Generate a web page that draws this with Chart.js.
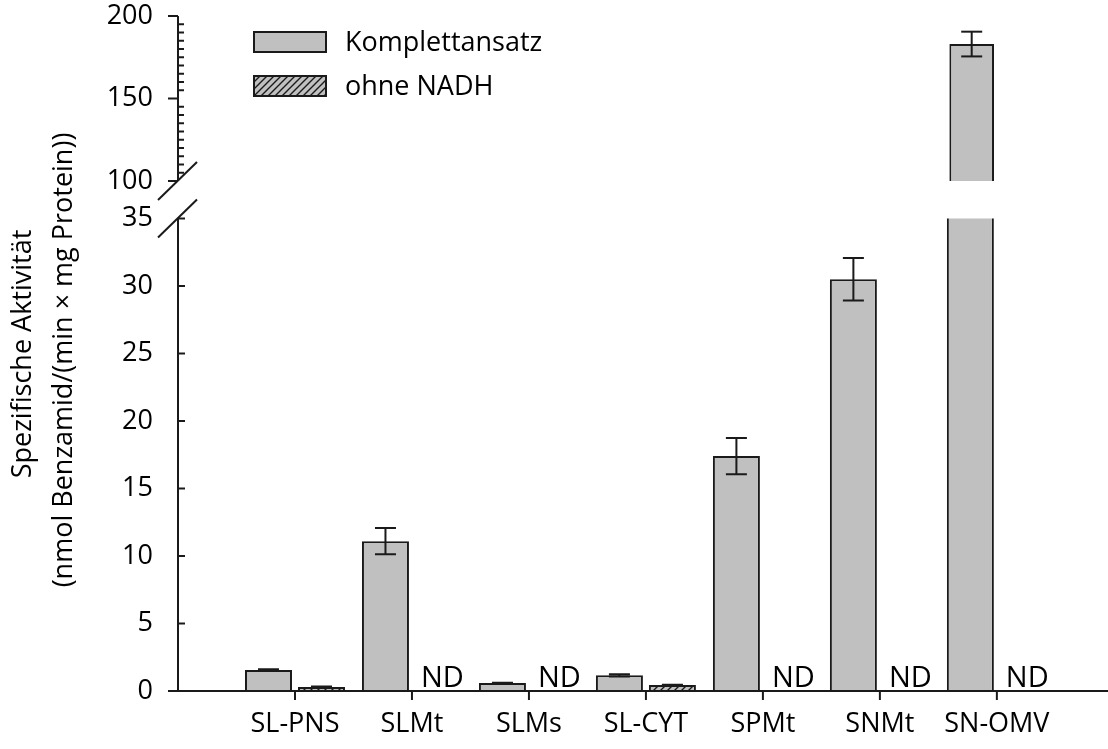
<!DOCTYPE html>
<html>
<head>
<meta charset="utf-8">
<script src="https://cdn.jsdelivr.net/npm/chart.js@4.4.1/dist/chart.umd.min.js"></script>
<style>
  body { margin: 0; background: #fff; }
  #wrap { position: relative; width: 1108px; height: 749px; }
  #wrap canvas { position: absolute; left: 0; top: 0; }
</style>
</head>
<body>
<div id="wrap">
  <canvas id="lower" width="1108" height="749"></canvas>
  <canvas id="upper" width="1108" height="205"></canvas>
</div>
<script>
// data
const categories = ['SL-PNS', 'SLMt', 'SLMs', 'SL-CYT', 'SPMt', 'SNMt', 'SN-OMV'];
const komplett = [1.55, 11.1, 0.59, 1.16, 17.4, 30.5, 183];
const komplettErr = [0.06, 0.97, 0.03, 0.08, 1.35, 1.58, 7.5];
const ohneNADH = [0.3, null, null, 0.44, null, null, null];
const ohneNADHErr = [0.04, null, null, 0.03, null, null, null];
const seriesNames = ['Komplettansatz', 'ohne NADH'];
const lowerTicks = [0, 5, 10, 15, 20, 25, 30, 35];
const upperTicks = [100, 150, 200];
const yTitle = ['Spezifische Aktivität', '(nmol Benzamid/(min × mg Protein))'];

const ink = '#1a1a1a';
const barGray = '#c0c0c0';
const font = "'Open Sans', sans-serif";
Chart.defaults.font.family = font;
Chart.defaults.color = '#000';

function makeHatch() {
  const c = document.createElement('canvas');
  c.width = 7; c.height = 7;
  const g = c.getContext('2d');
  g.fillStyle = barGray;
  g.fillRect(0, 0, 7, 7);
  g.strokeStyle = ink;
  g.lineWidth = 1.4;
  g.beginPath();
  g.moveTo(-1, 8); g.lineTo(8, -1);
  g.moveTo(-2, 2); g.lineTo(2, -2);
  g.moveTo(5, 9); g.lineTo(9, 5);
  g.stroke();
  return g.createPattern(c, 'repeat');
}
const hatch = makeHatch();

const toPoints = vals => vals.map((v, i) => ({ x: i + 1, y: v }));

function datasets() {
  return [
    { label: seriesNames[0], data: toPoints(komplett), backgroundColor: barGray,
      borderColor: ink, borderWidth: 2, categoryPercentage: 0.906, barPercentage: 0.887, clip: 0 },
    { label: seriesNames[1], data: toPoints(ohneNADH), backgroundColor: hatch,
      borderColor: ink, borderWidth: 2, categoryPercentage: 0.906, barPercentage: 0.887, clip: 0 }
  ];
}

function line(ctx, x1, y1, x2, y2) {
  ctx.beginPath(); ctx.moveTo(x1, y1); ctx.lineTo(x2, y2); ctx.stroke();
}

function drawErrors(chart) {
  const { ctx, chartArea: a, scales: { y } } = chart;
  ctx.save();
  ctx.beginPath();
  ctx.rect(a.left, a.top - 2, a.right - a.left, a.bottom - a.top + 2);
  ctx.clip();
  ctx.strokeStyle = ink;
  ctx.lineWidth = 2;
  [[komplett, komplettErr], [ohneNADH, ohneNADHErr]].forEach(([vals, errs], d) => {
    const meta = chart.getDatasetMeta(d);
    vals.forEach((v, i) => {
      if (v === null || errs[i] === null) return;
      const bx = meta.data[i].x;
      const hi = y.getPixelForValue(v + errs[i]);
      const lo = y.getPixelForValue(v - errs[i]);
      line(ctx, bx, hi, bx, lo);
      line(ctx, bx - 10.5, hi, bx + 10.5, hi);
      line(ctx, bx - 10.5, lo, bx + 10.5, lo);
    });
  });
  ctx.restore();
}

const lowerDeco = {
  id: 'lowerDeco',
  afterDatasetsDraw(chart) {
    drawErrors(chart);
    const { ctx, chartArea: a, scales: { x, y } } = chart;
    ctx.save();
    ctx.strokeStyle = ink;
    ctx.lineWidth = 2;
    line(ctx, a.left, a.top, a.left, a.bottom);
    line(ctx, a.left - 10, a.bottom, a.right, a.bottom);
    lowerTicks.forEach(t => {
      const py = y.getPixelForValue(t);
      line(ctx, a.left, py, a.left + 7, py);
    });
    categories.forEach((c, i) => {
      const px = x.getPixelForValue(i + 1);
      line(ctx, px, a.bottom, px, a.bottom + 9);
    });
    // axis break mark at the top of the lower segment
    line(ctx, a.left - 20, a.top + 19, a.left + 19, a.top - 19);
    // ND labels where the second series was not detected
    ctx.fillStyle = '#000';
    ctx.font = '29px ' + font;
    ctx.textAlign = 'left';
    ctx.textBaseline = 'alphabetic';
    ohneNADH.forEach((v, i) => {
      if (v === null) ctx.fillText('ND', x.getPixelForValue(i + 1) + 9, a.bottom - 4);
    });
    // y axis title, two lines
    ctx.font = '27px ' + font;
    ctx.textAlign = 'center';
    ctx.textBaseline = 'middle';
    [[23, 354], [64, 360]].forEach(([tx, ty], k) => {
      ctx.save();
      ctx.translate(tx, ty);
      ctx.rotate(-Math.PI / 2);
      ctx.fillText(yTitle[k], 0, 0);
      ctx.restore();
    });
    ctx.restore();
  }
};

const upperDeco = {
  id: 'upperDeco',
  afterDatasetsDraw(chart) {
    drawErrors(chart);
    const { ctx, chartArea: a, scales: { y } } = chart;
    ctx.save();
    ctx.strokeStyle = ink;
    ctx.lineWidth = 2;
    line(ctx, a.left, a.top, a.left, a.bottom);
    upperTicks.forEach(t => {
      const py = y.getPixelForValue(t);
      line(ctx, a.left - 10, py, a.left, py);
    });
    for (let v = 105; v < 200; v += 5) {
      if (v === 150) continue;
      const py = y.getPixelForValue(v);
      line(ctx, a.left, py, a.left + 6, py);
    }
    line(ctx, a.left - 20, a.bottom + 19, a.left + 19, a.bottom - 19);
    // legend
    const boxes = [[barGray, 32], [hatch, 76]];
    ctx.font = '27px ' + font;
    ctx.textAlign = 'left';
    ctx.textBaseline = 'middle';
    boxes.forEach(([fill, top], k) => {
      ctx.fillStyle = fill;
      ctx.fillRect(254, top, 72, 20);
      ctx.strokeRect(254, top, 72, 20);
      ctx.fillStyle = '#000';
      ctx.fillText(seriesNames[k], 345, top + 11);
    });
    ctx.restore();
  }
};

const tickFont = { size: 27, family: font };
// fixed y-axis width; drop the label overhang padding so layout padding rules
const fitY = s => { s.width = 178; s.paddingTop = 0; s.paddingBottom = 0; };

new Chart(document.getElementById('lower'), {
  type: 'bar',
  data: { datasets: datasets() },
  options: {
    responsive: false,
    animation: false,
    layout: { padding: { top: 218.5, right: 0, bottom: 0, left: 0 } },
    plugins: { legend: { display: false }, tooltip: { enabled: false } },
    scales: {
      x: {
        type: 'linear', min: 0, max: 7.95, offset: false,
        grid: { display: false, drawTicks: false, offset: false }, border: { display: false },
        afterBuildTicks: s => { s.ticks = categories.map((c, i) => ({ value: i + 1 })); },
        afterFit: s => { s.height = 58; },
        ticks: { font: tickFont, padding: 17, maxRotation: 0, autoSkip: false,
          callback: v => categories[v - 1] }
      },
      y: {
        min: 0, max: 35,
        grid: { display: false, drawTicks: false }, border: { display: false },
        afterBuildTicks: s => { s.ticks = lowerTicks.map(v => ({ value: v })); },
        afterFit: fitY,
        ticks: { font: tickFont, padding: 25 }
      }
    }
  },
  plugins: [lowerDeco]
});

new Chart(document.getElementById('upper'), {
  type: 'bar',
  data: { datasets: datasets() },
  options: {
    responsive: false,
    animation: false,
    layout: { padding: { top: 16, right: 0, bottom: 24, left: 0 } },
    plugins: { legend: { display: false }, tooltip: { enabled: false } },
    scales: {
      x: { type: 'linear', min: 0, max: 7.95, offset: false, display: false },
      y: {
        min: 100, max: 200,
        grid: { display: false, drawTicks: false }, border: { display: false },
        afterBuildTicks: s => { s.ticks = upperTicks.map(v => ({ value: v })); },
        afterFit: fitY,
        ticks: { font: tickFont, padding: 25 }
      }
    }
  },
  plugins: [upperDeco]
});
</script>
</body>
</html>
